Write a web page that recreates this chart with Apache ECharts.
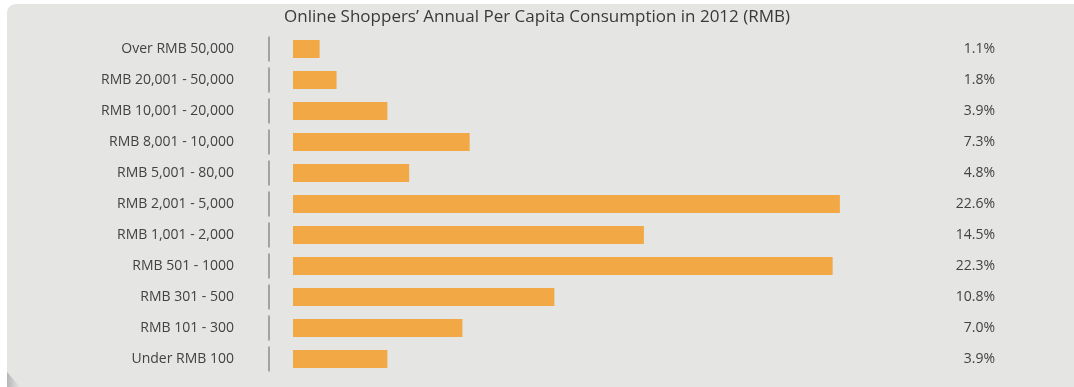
<!DOCTYPE html>
<html>
<head>
<meta charset="utf-8">
<style>
  html, body { margin: 0; padding: 0; background: #e5e5e4; overflow: hidden; }
  #chart { width: 1074px; height: 387px; }
</style>
<script src="https://cdn.jsdelivr.net/npm/echarts@6/dist/echarts.min.js"></script>
</head>
<body>
<div id="chart"></div>
<script>
// Spending brackets, listed top to bottom
const categories = [
  'Over RMB 50,000',
  'RMB 20,001 - 50,000',
  'RMB 10,001 - 20,000',
  'RMB 8,001 - 10,000',
  'RMB 5,001 - 80,00',
  'RMB 2,001 - 5,000',
  'RMB 1,001 - 2,000',
  'RMB 501 - 1000',
  'RMB 301 - 500',
  'RMB 101 - 300',
  'Under RMB 100'
];
// Share of online shoppers in each bracket (%)
const shares = [1.1, 1.8, 3.9, 7.3, 4.8, 22.6, 14.5, 22.3, 10.8, 7.0, 3.9];

const titleText = 'Online Shoppers\u2019 Annual Per Capita Consumption in 2012 (RMB)';

const chart = echarts.init(document.getElementById('chart'), null, { renderer: 'canvas' });

const textFont = '"Open Sans", Lato, sans-serif';

// Short vertical divider drawn beside each category band
function renderDivider(params, api) {
  const p = api.coord([0, api.value(0)]);
  const band = api.size([0, 1])[1];
  const x = p[0] - 24;
  return {
    type: 'line',
    shape: { x1: x, y1: p[1] - band / 2 + 3, x2: x, y2: p[1] + band / 2 - 3 },
    style: { stroke: '#a3a3a3', lineWidth: 2 }
  };
}

// white fill outside the panel's rounded top-left corner
const cornerR = 9;
const cornerPts = [[7, 4]];
for (let a = 0; a <= 90; a += 10) {
  const t = a * Math.PI / 180;
  cornerPts.push([7 + cornerR - cornerR * Math.cos(t), 4 + cornerR - cornerR * Math.sin(t)]);
}

chart.setOption({
  animation: false,
  backgroundColor: '#e5e5e4',
  graphic: [
    // white margin along the top and left of the panel
    { type: 'rect', z: -10, left: 0, top: 0, shape: { width: 1074, height: 4 }, style: { fill: '#ffffff' } },
    { type: 'rect', z: -10, left: 0, top: 0, shape: { width: 7, height: 387 }, style: { fill: '#ffffff' } },
    { type: 'polygon', z: -10, shape: { points: cornerPts }, style: { fill: '#ffffff' } },
    // soft shadow curl at the lower-left corner
    {
      type: 'polygon', z: -9,
      shape: { points: [[7, 372], [7, 387], [20, 387]] },
      style: {
        fill: {
          type: 'linear', x: 0, y: 0, x2: 1, y2: 0,
          colorStops: [{ offset: 0, color: 'rgba(150,150,150,0.6)' }, { offset: 1, color: 'rgba(150,150,150,0)' }]
        }
      }
    }
  ],
  title: {
    text: titleText,
    left: 'center',
    top: 4,
    textStyle: {
      fontFamily: textFont,
      fontSize: 17,
      fontWeight: 'normal',
      color: '#3a3a3a'
    }
  },
  grid: {
    left: 293,
    top: 33.5,
    width: 605,
    height: 341,
    containLabel: false
  },
  xAxis: {
    type: 'value',
    min: 0,
    max: 25,
    show: false
  },
  yAxis: [
    {
      type: 'category',
      data: categories,
      inverse: true,
      axisLine: { show: false },
      axisTick: { show: false },
      axisLabel: {
        margin: 59,
        fontFamily: textFont,
        fontSize: 14,
        color: '#424242'
      }
    },
    {
      type: 'category',
      data: shares.map(v => v.toFixed(1) + '%'),
      inverse: true,
      position: 'right',
      axisLine: { show: false },
      axisTick: { show: false },
      axisLabel: {
        margin: 97,
        align: 'right',
        fontFamily: textFont,
        fontSize: 14,
        color: '#424242'
      }
    }
  ],
  series: [
    {
      type: 'bar',
      data: shares,
      barWidth: 18,
      itemStyle: { color: '#f2a945' },
      silent: true
    },
    {
      type: 'custom',
      data: categories.map((c, i) => [i]),
      encode: { y: 0 },
      renderItem: renderDivider,
      silent: true
    }
  ]
});
</script>
</body>
</html>
